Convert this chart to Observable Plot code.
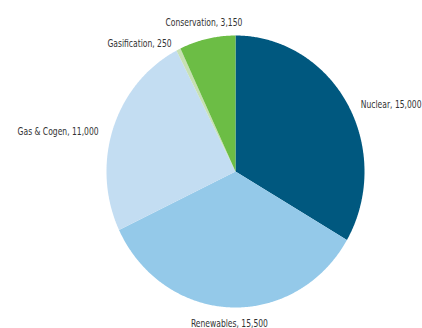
<!DOCTYPE html>
<html>
<head>
<meta charset="utf-8">
<script src="https://cdn.jsdelivr.net/npm/d3@7"></script>
<script src="https://cdn.jsdelivr.net/npm/@observablehq/plot@0.6"></script>
<style>
  html, body { margin: 0; padding: 0; background: #fff; }
  #chart { width: 422px; height: 328px; }
</style>
</head>
<body>
<div id="chart"></div>
<script>
const categories = ["Nuclear", "Renewables", "Gas & Cogen", "Gasification", "Conservation"];
const values = [15000, 15500, 11000, 250, 3150];
const colors = ["#00587f", "#94c9e9", "#c3ddf2", "#c6e0b4", "#6cbd45"];

const rows = categories.map((c, i) => ({category: c, value: values[i]}));
const arcs = d3.pie().sort(null).value(d => d.value)(rows);

// polygon outline of each slice (unit circle; y up)
const slicePts = [];
for (const a of arcs) {
  const cat = a.data.category;
  slicePts.push({category: cat, x: 0, y: 0});
  const n = Math.max(2, Math.ceil((a.endAngle - a.startAngle) / (Math.PI / 360)));
  for (let k = 0; k <= n; k++) {
    const t = a.startAngle + (a.endAngle - a.startAngle) * k / n;
    slicePts.push({category: cat, x: Math.sin(t), y: Math.cos(t)});
  }
  slicePts.push({category: cat, x: 0, y: 0});
}

// labels placed just outside the slice mid-angle
const fmt = d3.format(",");
const labels = arcs.map(a => {
  const m = (a.startAngle + a.endAngle) / 2;
  const s = Math.sin(m), c = Math.cos(m);
  const anchor = Math.abs(s) < 0.25 ? "middle" : (s > 0 ? "start" : "end");
  return {
    text: `${a.data.category}, ${fmt(a.data.value)}`,
    x: s * 1.12,
    y: c * 1.12,
    anchor
  };
});

const font = "'DejaVu Sans Condensed', 'Liberation Sans Narrow', 'Roboto', sans-serif";
const textMark = anchor => Plot.text(labels.filter(d => d.anchor === anchor), {
  x: "x", y: "y", text: "text", textAnchor: anchor,
  dy: anchor === "middle" ? 0 : 9,
  fill: "#333", fontSize: 11, fontFamily: font
});

const chart = Plot.plot({
  width: 422,
  height: 328,
  marginLeft: 106,
  marginRight: 58,
  marginTop: 35,
  marginBottom: 21,
  x: {domain: [-1, 1], axis: null},
  y: {domain: [-1, 1], axis: null},
  color: {domain: categories, range: colors},
  style: {background: "#fff", overflow: "visible"},
  marks: [
    Plot.line(slicePts, {x: "x", y: "y", z: "category", fill: "category", stroke: null, curve: "linear"}),
    textMark("start"),
    textMark("middle"),
    textMark("end")
  ]
});
document.getElementById("chart").appendChild(chart);

// condense label glyphs horizontally (narrow typeface look)
chart.querySelectorAll("text").forEach(t => {
  const tr = t.getAttribute("transform");
  if (tr) {
    t.setAttribute("transform", tr + " scale(0.77,1)");
  } else {
    const x = +t.getAttribute("x") || 0, y = +t.getAttribute("y") || 0;
    t.setAttribute("transform", `translate(${x},${y}) scale(0.77,1) translate(${-x},${-y})`);
  }
});
</script>
</body>
</html>
